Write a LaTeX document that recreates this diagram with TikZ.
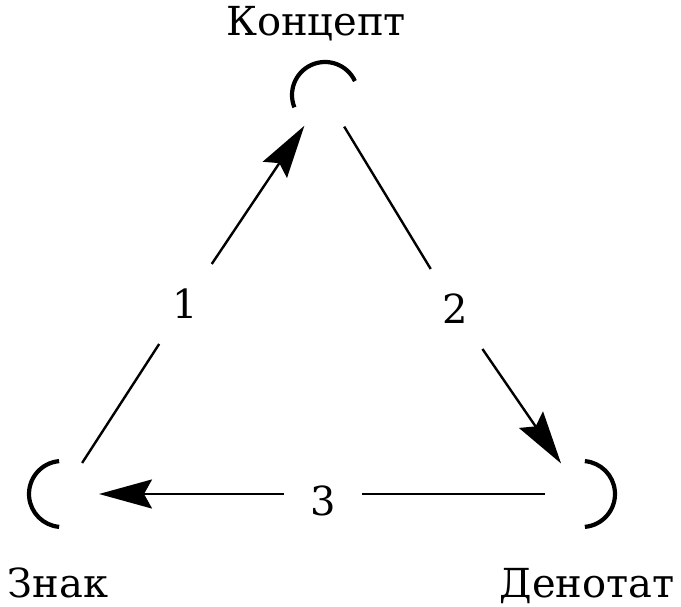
\documentclass[tikz,border=0pt]{standalone}
\usepackage{fontspec}
\setmainfont{DejaVu Serif}
\usepackage{tikz}
\usetikzlibrary{arrows.meta, positioning}

\begin{document}
\begin{tikzpicture}[x=1pt, y=1pt,
    vertex/.style={circle, minimum size=74pt, inner sep=0pt, outer sep=0pt},
    numlabel/.style={rectangle, minimum width=78pt, minimum height=80pt, inner sep=0pt, outer sep=0pt},
    edge/.style={line width=2.4pt},
    tip/.style={-{Stealth[length=53pt, width=29pt, inset=8pt]}},
    arcline/.style={line width=4.2pt}]
        \useasboundingbox (0,0) rectangle (681,606);
        \fontsize{40}{42}\selectfont
        % Vertices
        \node[vertex] (koncept) at (325,511) {};
        \node[vertex] (znak) at (62,112) {};
        \node[vertex] (denotat) at (582,112) {};
        % Arcs
        \draw[arcline] ([shift={(25:33)}]koncept.center) arc[start angle=25, end angle=202, radius=33];
        \draw[arcline] ([shift={(95:33)}]znak.center) arc[start angle=95, end angle=265, radius=33];
        \draw[arcline] ([shift={(-85:33)}]denotat.center) arc[start angle=-85, end angle=85, radius=33];
        % Names
        \node[anchor=base] (tkoncept) at (316,570) {Концепт};
        \node[anchor=base] (tznak) at (58,9) {Знак};
        \node[anchor=base] (tdenotat) at (587,9) {Денотат};
        % Numbers
        \node[numlabel] (n1) at (185,302) {1};
        \node[numlabel] (n2) at (455,297) {2};
        \node[numlabel, text height=43pt, text depth=0pt] (n3) at (323,112) {3};
        % Edges
        \draw[edge] (znak) -- (n1);
        \draw[edge, tip] (n1) -- (koncept);
        \draw[edge] (koncept) -- (n2);
        \draw[edge, tip] (n2) -- (denotat);
        \draw[edge] (denotat) -- (n3);
        \draw[edge, tip] (n3) -- (znak);
\end{tikzpicture}
\end{document}
